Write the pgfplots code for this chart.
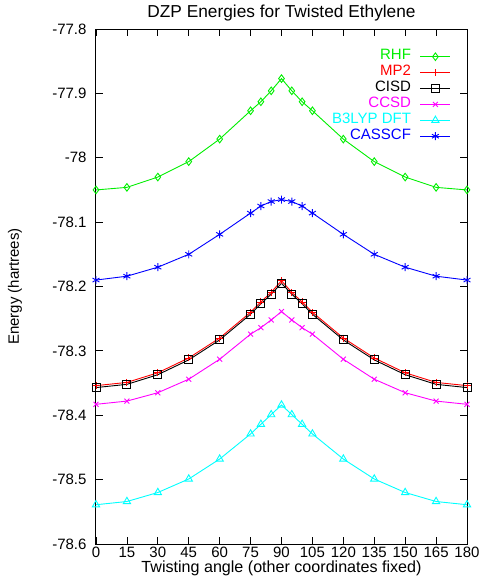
\documentclass[border=0pt]{standalone}
\usepackage{fontspec}
\setmainfont{Liberation Sans}
\usepackage{pgfplots}
\pgfplotsset{compat=1.18}
\usepackage{pgfplotstable}

\definecolor{gpgreen}{RGB}{0,238,0}
\definecolor{gpred}{RGB}{255,0,0}
\definecolor{gpmag}{RGB}{255,0,255}
\definecolor{gpcyan}{RGB}{0,255,255}
\definecolor{gpblue}{RGB}{0,0,255}

% twisting angle vs DZP energy (hartrees)
\pgfplotstableread{
angle rhf     mp2     cisd    ccsd    b3lyp   casscf
0    -78.050 -78.354 -78.357 -78.383 -78.539 -78.190
15   -78.046 -78.349 -78.352 -78.378 -78.534 -78.184
30   -78.030 -78.334 -78.337 -78.365 -78.520 -78.170
45   -78.006 -78.311 -78.314 -78.344 -78.499 -78.150
60   -77.971 -78.280 -78.283 -78.313 -78.468 -78.119
75   -77.927 -78.240 -78.243 -78.274 -78.429 -78.086
80   -77.913 -78.224 -78.227 -78.264 -78.414 -78.075
85   -77.896 -78.209 -78.212 -78.252 -78.399 -78.068
90   -77.877 -78.191 -78.195 -78.239 -78.384 -78.065
95   -77.896 -78.209 -78.212 -78.252 -78.399 -78.068
100  -77.913 -78.224 -78.227 -78.264 -78.414 -78.075
105  -77.927 -78.240 -78.243 -78.274 -78.429 -78.086
120  -77.971 -78.280 -78.283 -78.313 -78.468 -78.119
135  -78.006 -78.311 -78.314 -78.344 -78.499 -78.150
150  -78.030 -78.334 -78.337 -78.365 -78.520 -78.170
165  -78.046 -78.349 -78.352 -78.378 -78.534 -78.184
180  -78.050 -78.354 -78.357 -78.383 -78.539 -78.190
}\energies

\newcommand\gpfont{\fontsize{15}{18}\selectfont}

\begin{document}
\begin{tikzpicture}
\useasboundingbox (-96pt,-40pt) rectangle (387pt,544pt);
\begin{axis}[at={(0,0)},anchor=south west,
 scale only axis,width=371pt,height=515pt,
 xmin=0,xmax=180,ymin=-78.6,ymax=-77.8,
 xtick={0,15,...,180},
 ytick={-78.6,-78.5,-78.4,-78.3,-78.2,-78.1,-78,-77.9,-77.8},
 yticklabels={-78.6,-78.5,-78.4,-78.3,-78.2,-78.1,-78,-77.9,-77.8},
 /pgf/number format/assume math mode=true,
 tick align=inside,major tick length=7pt,
 axis line style={line width=1pt},
 tick style={black,line width=0.8pt},
 tick label style={font=\gpfont},
 xticklabel style={anchor=base,yshift=-13pt},
 yticklabel style={anchor=east,xshift=-6pt},
 every axis title shift=0pt,
 title={DZP Energies for Twisted Ethylene},
 title style={font=\fontsize{17.3}{20}\selectfont,at={(axis description cs:0.5,1)},anchor=base,yshift=12pt},
 xlabel={Twisting angle (other coordinates fixed)},
 xlabel style={font=\fontsize{16.1}{19}\selectfont,at={(axis description cs:0.5,0)},anchor=base,yshift=-28.5pt},
 ylabel={Energy (hartrees)},
 ylabel style={font=\gpfont,at={(axis description cs:-0.2183,0.5)},anchor=center,rotate=0},
 legend plot pos=right,legend cell align=right,
 legend image code/.code={\draw[#1,mark repeat=2,mark phase=2,mark options={solid,fill opacity=0}] plot coordinates {(0pt,0pt)(15pt,0pt)(30pt,0pt)};},
 legend style={draw=none,fill=none,font=\gpfont,at={(axis description cs:0.957,0.962)},anchor=north east,
  inner sep=0pt,row sep=0pt,/tikz/column sep=9pt,
  nodes={inner sep=0pt,text height=11pt,text depth=4.9pt}},
 every axis plot/.append style={line width=0.9pt},
]
\addplot[color=gpgreen,mark=diamond,mark size=3.8pt,mark options={solid,fill opacity=0}] table[x=angle,y=rhf] {\energies};
\addlegendentry{\textcolor{gpgreen}{RHF}}
\addplot[color=gpred,mark=+,mark size=3.5pt,mark options={solid}] table[x=angle,y=mp2] {\energies};
\addlegendentry{\textcolor{gpred}{MP2}}
\addplot[color=black,mark=square,mark size=4pt,mark options={solid,fill opacity=0}] table[x=angle,y=cisd] {\energies};
\addlegendentry{\textcolor{black}{CISD}}
\addplot[color=gpmag,mark=x,mark size=3.5pt,mark options={solid}] table[x=angle,y=ccsd] {\energies};
\addlegendentry{\textcolor{gpmag}{CCSD}}
\addplot[color=gpcyan,mark=triangle,mark size=4.2pt,mark options={solid,fill opacity=0}] table[x=angle,y=b3lyp] {\energies};
\addlegendentry{\textcolor{gpcyan}{B3LYP DFT}}
\addplot[color=gpblue,mark=asterisk,mark size=4pt,mark options={solid}] table[x=angle,y=casscf] {\energies};
\addlegendentry{\textcolor{gpblue}{CASSCF}}
\end{axis}
\end{tikzpicture}
\end{document}
